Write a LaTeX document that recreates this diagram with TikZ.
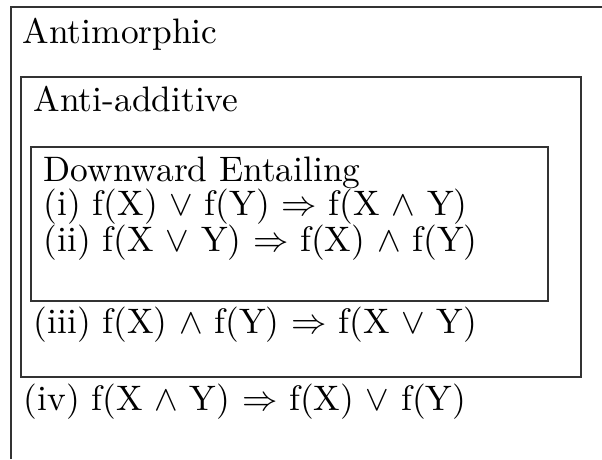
\documentclass[tikz,border=0pt]{standalone}
\usepackage{amsmath}
\usepackage{amssymb}
\usepackage{tikz}
\usepackage{xcolor}
\usetikzlibrary{positioning}
\definecolor{BoxLine}{HTML}{333333}

\begin{document}
\begin{tikzpicture}[x=1pt, y=-1pt,
    txt/.style={anchor=base west, inner sep=0pt, font=\normalsize, scale=3.54, transform shape},
    boxline/.style={draw=BoxLine, line width=1.3pt}]
    \useasboundingbox (0,0) rectangle (602,459);
    % outer set, runs off the page
    \draw[boxline] (11,459) -- (11,7) -- (602,7);
    % anti-additive and downward entailing sets
    \draw[boxline] (21,77) rectangle (581,377);
    \draw[boxline] (31,147) rectangle (548,301);
    \node[txt] (antimorph) at (22,43) {Antimorphic};
    \node[txt] (antiadd) at (33,111) {Anti-additive};
    \node[txt] (downent) at (43,181) {Downward Entailing};
    \node[txt] (lawi) at (43,215) {(i) f(X) $\vee$ f(Y) $\Rightarrow$ f(X $\wedge$ Y)};
    \node[txt] (lawii) at (43,251) {(ii) f(X $\vee$ Y) $\Rightarrow$ f(X) $\wedge$ f(Y)};
    \node[txt] (lawiii) at (33,333) {(iii) f(X) $\wedge$ f(Y) $\Rightarrow$ f(X $\vee$ Y)};
    \node[txt] (lawiv) at (23,410) {(iv) f(X $\wedge$ Y) $\Rightarrow$ f(X) $\vee$ f(Y)};
\end{tikzpicture}
\end{document}
